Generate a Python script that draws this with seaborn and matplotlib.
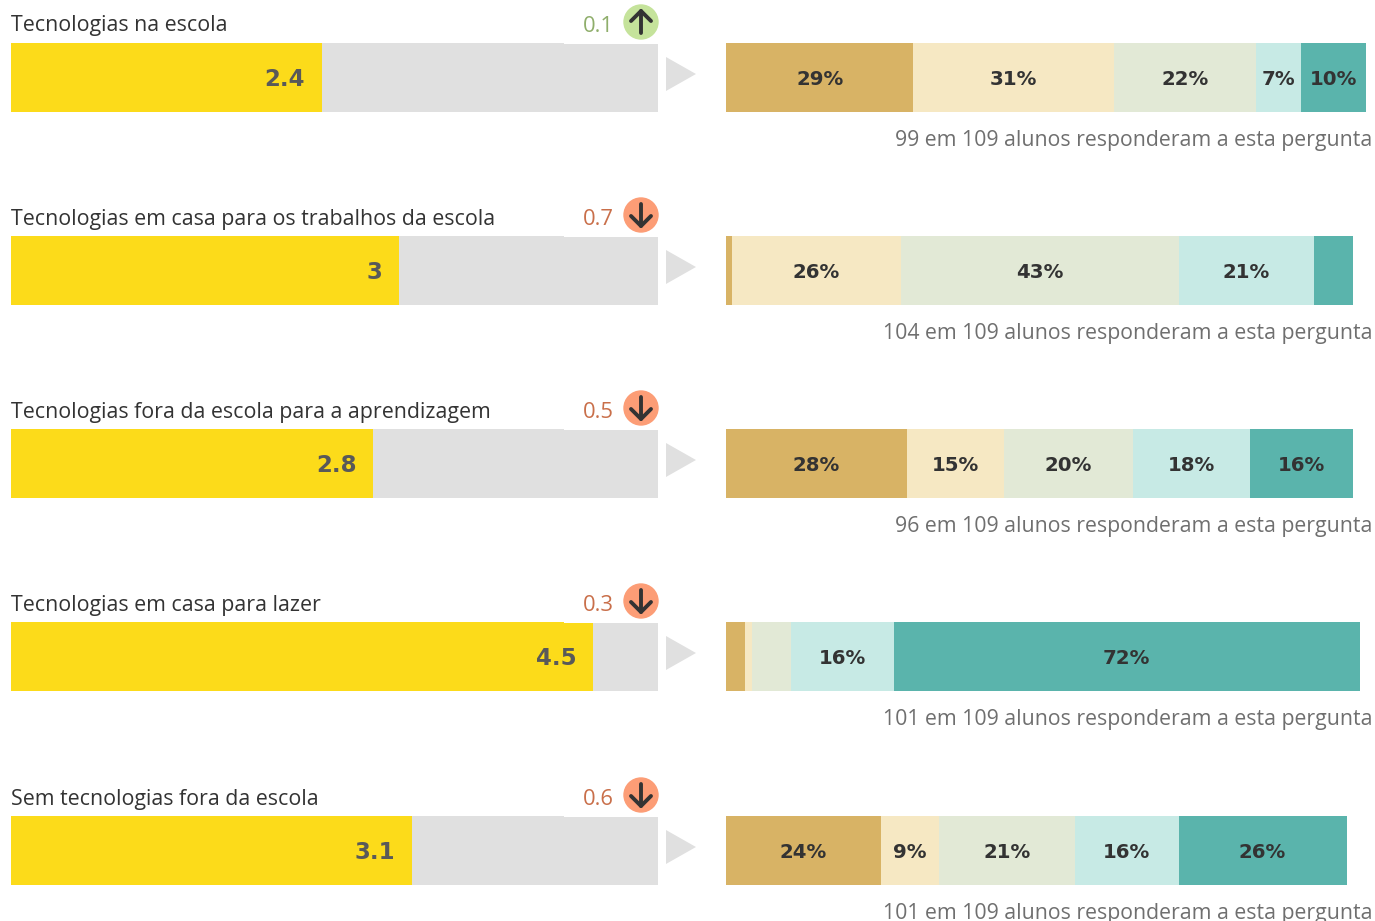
import seaborn as sns
import matplotlib.pyplot as plt
import pandas as pd
from matplotlib.patches import Polygon, Circle

titles = ['Tecnologias na escola', 'Tecnologias em casa para os trabalhos da escola',
          'Tecnologias fora da escola para a aprendizagem', 'Tecnologias em casa para lazer',
          'Sem tecnologias fora da escola']
scores = [2.4, 3, 2.8, 4.5, 3.1]
score_labels = ['2.4', '3', '2.8', '4.5', '3.1']
diffs = ['0.1', '0.7', '0.5', '0.3', '0.6']
diff_up = [True, False, False, False, False]
shares = [[29, 31, 22, 7, 10], [1, 26, 43, 21, 6], [28, 15, 20, 18, 16], [3, 1, 6, 16, 72], [24, 9, 21, 16, 26]]
share_labels = [['29%', '31%', '22%', '7%', '10%'], ['', '26%', '43%', '21%', ''],
                ['28%', '15%', '20%', '18%', '16%'], ['', '', '', '16%', '72%'],
                ['24%', '9%', '21%', '16%', '26%']]
answered = [99, 104, 96, 101, 101]
seg_colors = ['#d8b365', '#f6e8c3', '#e2e9d6', '#c7eae5', '#5ab4ac']

W, H = 1375, 921
TOPS = [43, 236, 429, 622, 816]
plt.rcParams['font.family'] = ['Open Sans', 'DejaVu Sans']
fig = plt.figure(figsize=(W / 100, H / 100), dpi=100)
dark = '#333333'


def px_axes(x0, y0, x1, y1):
    return fig.add_axes([x0 / W, 1 - y1 / H, (x1 - x0) / W, (y1 - y0) / H])


ov = fig.add_axes([0, 0, 1, 1], zorder=5)
ov.set_xlim(0, W)
ov.set_ylim(H, 0)
ov.set_axis_off()
ov.patch.set_alpha(0)

for i, title in enumerate(titles):
    top = TOPS[i]
    # score bar
    ax = px_axes(11, top, 658, top + 69)
    df = pd.DataFrame({'row': [title], 'score': [scores[i]]})
    sns.barplot(data=df, x='score', y='row', color='#fcdb1a', saturation=1, width=1, ax=ax)
    ax.set_xlim(0, 5)
    ax.set_axis_off()
    ax.add_patch(plt.Rectangle((0, 0), 1, 1, transform=ax.transAxes, color='#e0e0e0', zorder=0))
    ax.text(scores[i] - 0.13, 0.025, score_labels[i], ha='right', va='center', fontsize=16.5,
            fontweight='bold', color='#595959', family='DejaVu Sans')

    # share bar
    ax2 = px_axes(726, top, 1366, top + 69)
    left = 0
    for k, val in enumerate(shares[i]):
        sns.barplot(x=[val], y=[0], orient='h', left=left, color=seg_colors[k], saturation=1, width=1, ax=ax2)
        if share_labels[i][k]:
            ax2.text(left + val / 2, 0.025, share_labels[i][k], ha='center', va='center', fontsize=14.2,
                     fontweight='bold', color=dark, family='DejaVu Sans')
        left += val
    ax2.set_xlim(0, 99)
    ax2.set_axis_off()

    # texts
    fig.text(11 / W, 1 - (top - 17) / H, title, ha='left', va='center', fontsize=15.4, color=dark)
    up = diff_up[i]
    fig.text(614 / W, 1 - (top - 16.5) / H, diffs[i], ha='right', va='center', fontsize=15.8,
             color='#8fae6b' if up else '#c96f4a')
    fig.text(1372.5 / W, 1 - (top + 97) / H, '%d em 109 alunos responderam a esta pergunta' % answered[i],
             ha='right', va='center', fontsize=15.3, color='#6f6f6f')

    # circle, arrow, triangle, small notch on the grey bar
    cx, cy = 641, top - 21
    ov.add_patch(Circle((cx, cy), 17, color='#c5e39b' if up else '#fc9d76'))
    d = -1 if up else 1
    ov.plot([cx, cx], [cy - 11 * d, cy + 11 * d], color=dark, lw=2.8, solid_capstyle='round')
    ov.plot([cx - 10, cx, cx + 10], [cy + 1 * d, cy + 11 * d, cy + 1 * d], color=dark, lw=2.8,
            solid_capstyle='round', solid_joinstyle='round')
    ov.add_patch(Polygon([(666, top + 14), (666, top + 48), (696, top + 31)], color='#e0e0e0', lw=0))
    ov.add_patch(plt.Rectangle((564, top), 95, 1, color='white', lw=0))

fig.savefig('out.png', dpi=100)
